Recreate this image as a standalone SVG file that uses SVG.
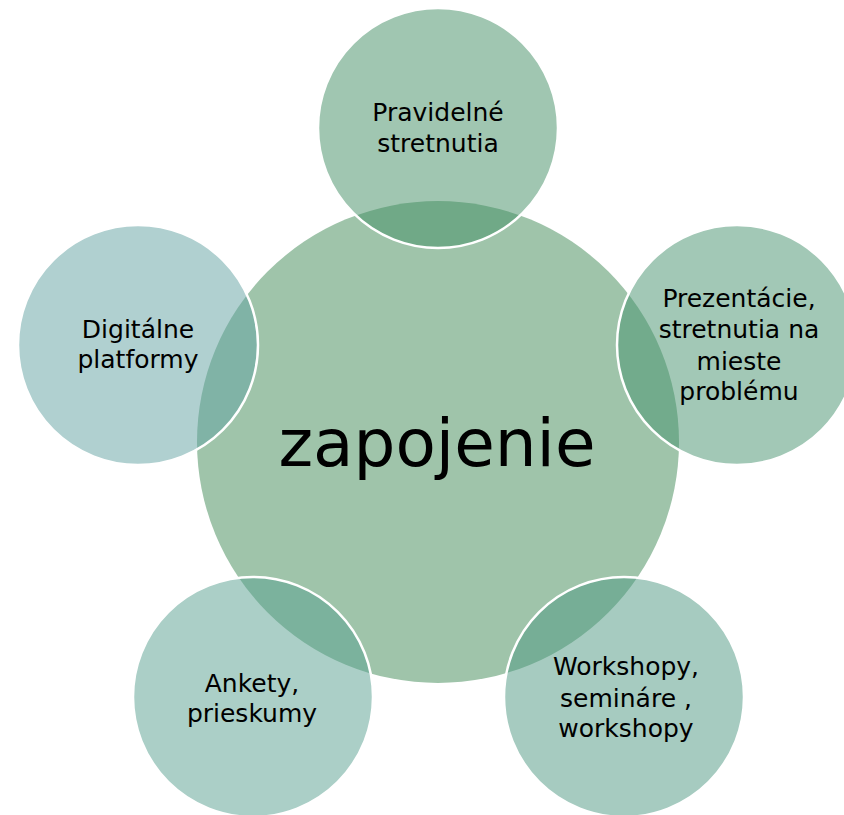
<svg xmlns="http://www.w3.org/2000/svg" width="844" height="815" viewBox="0 0 844 815">
  <style>
    .sat { stroke: #ffffff; stroke-width: 2.5; fill-opacity: 0.5; }
    .lbl { font-family: "DejaVu Sans", "Liberation Sans", sans-serif; font-size: 25px; fill: #000000; text-anchor: middle; }
    .ctr { font-family: "DejaVu Sans", "Liberation Sans", sans-serif; font-size: 66px; fill: #000000; text-anchor: middle; }
  </style>
  <rect width="844" height="815" fill="#ffffff"/>
  <g id="center">
    <circle cx="438" cy="442" r="241" fill="#9fc4aa"/>
    <text class="ctr" x="437" y="466">zapojenie</text>
  </g>
  <g id="connectors"></g>
  <g id="node-top">
    <circle class="sat" cx="438" cy="128" r="120" fill="#418d63"/>
    <text class="lbl" x="438" y="121">Pravidelné</text>
    <text class="lbl" x="438" y="152">stretnutia</text>
  </g>
  <g id="node-right">
    <circle class="sat" cx="737" cy="345" r="120" fill="#45916e"/>
    <text class="lbl" x="739" y="307">Prezentácie,</text>
    <text class="lbl" x="739" y="338">stretnutia na</text>
    <text class="lbl" x="739" y="370">mieste</text>
    <text class="lbl" x="739" y="400">problému</text>
  </g>
  <g id="node-bottom-right">
    <circle class="sat" cx="624" cy="697" r="120" fill="#4d9781"/>
    <text class="lbl" x="626" y="675">Workshopy,</text>
    <text class="lbl" x="626" y="707">semináre ,</text>
    <text class="lbl" x="626" y="737">workshopy</text>
  </g>
  <g id="node-bottom-left">
    <circle class="sat" cx="253" cy="697" r="120" fill="#579f8f"/>
    <text class="lbl" x="252" y="692">Ankety,</text>
    <text class="lbl" x="252" y="722">prieskumy</text>
  </g>
  <g id="node-left">
    <circle class="sat" cx="138" cy="345" r="120" fill="#61a1a1"/>
    <text class="lbl" x="138" y="338">Digitálne</text>
    <text class="lbl" x="138" y="368">platformy</text>
  </g>
</svg>
